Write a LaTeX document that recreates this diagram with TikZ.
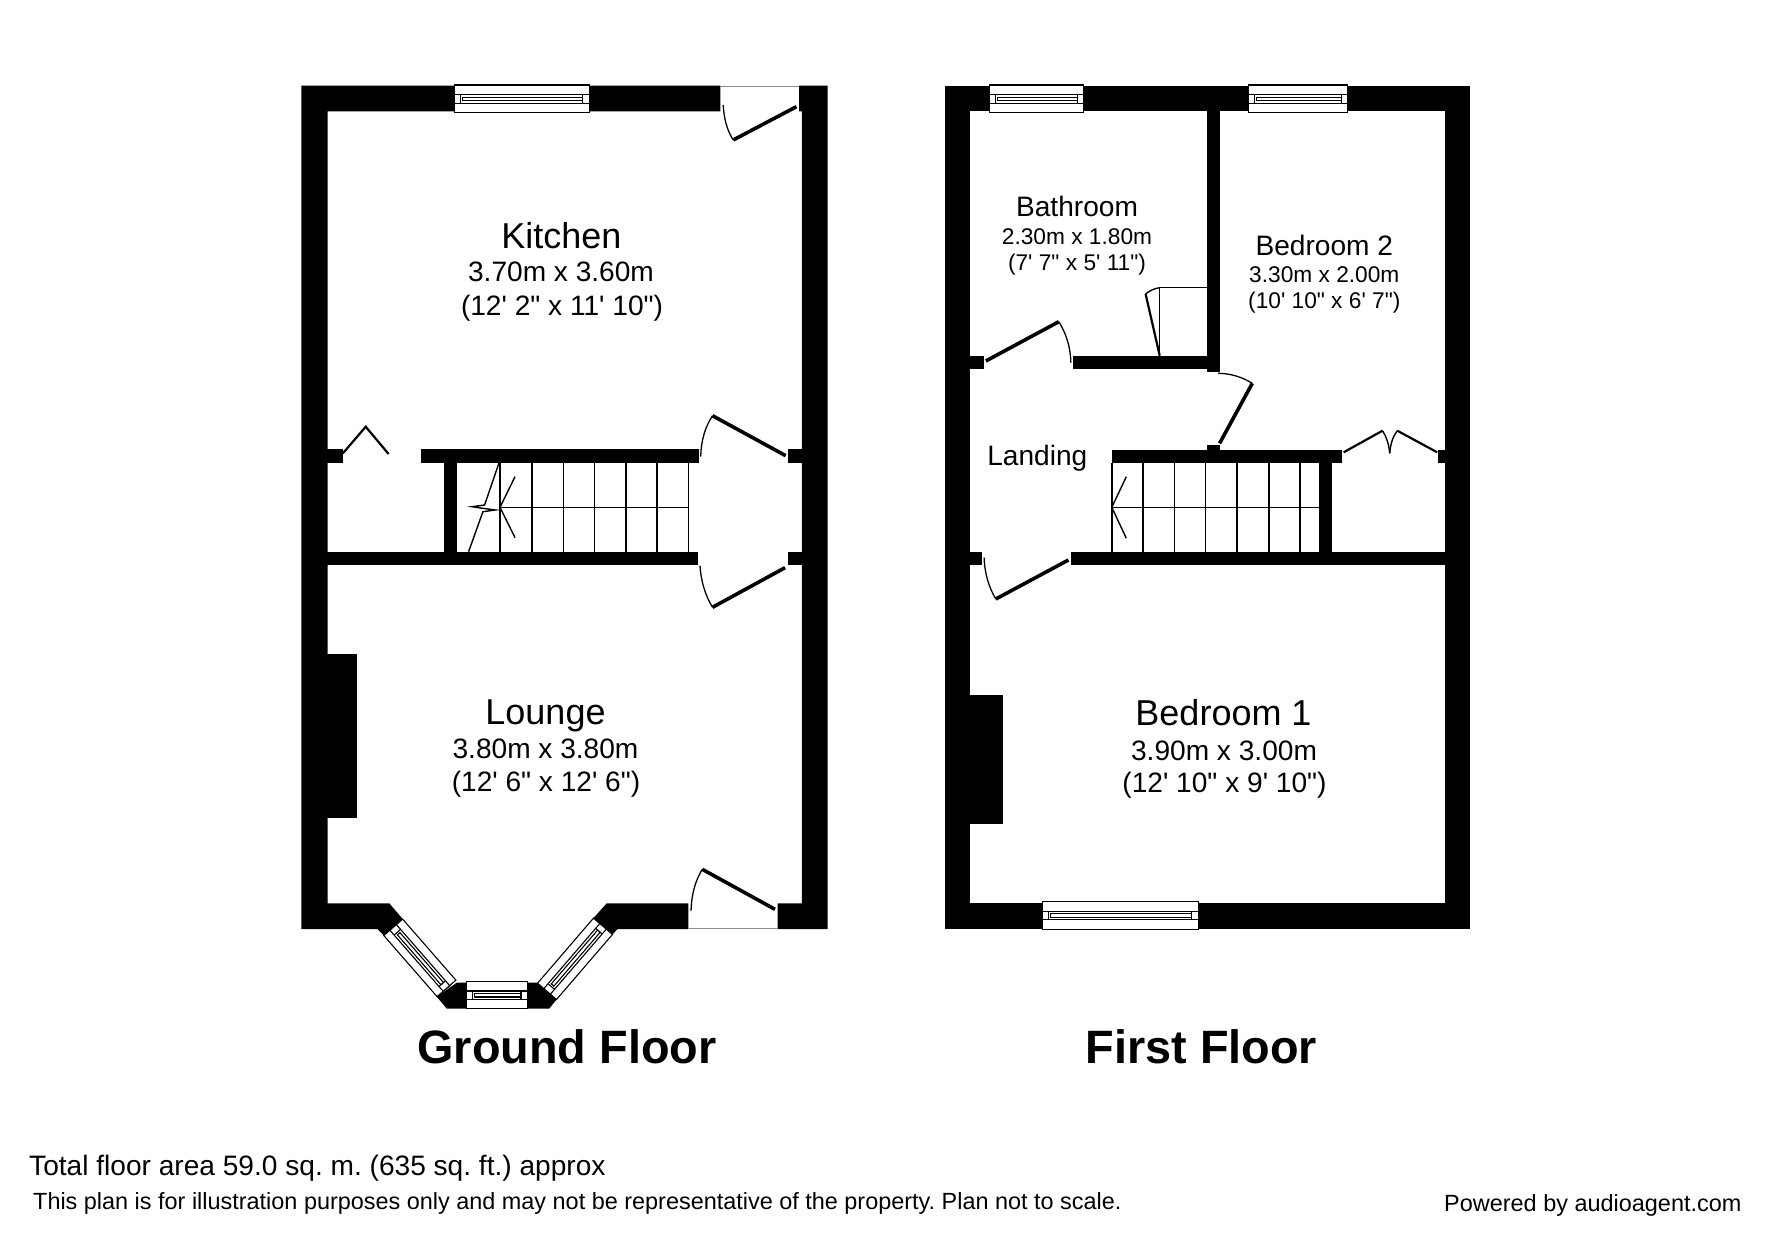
\documentclass[tikz,border=0pt]{standalone}
\usepackage{fontspec}
\newfontfamily\lsans{Liberation Sans}
\newcommand{\fs}[1]{\lsans\frenchspacing\fontsize{#1}{#1}\selectfont}
\tikzset{
  x=1pt,y=-1pt,
  wall/.style={fill=black,draw=none},
  gap/.style={draw=gray!90,line width=1.2pt},
  leaf/.style={draw=black,line width=3.6pt},
  swing/.style={draw=black,line width=1.3pt},
  hinge/.style={draw=black,line width=2.2pt},
  tread/.style={draw=black,line width=1.4pt},
  winline/.style={draw=black,line width=1.1pt,fill=white},
  big/.style={anchor=base,inner sep=0pt,font=\fs{36}},
  mid/.style={anchor=base,inner sep=0pt,font=\fs{28.1}},
  small/.style={anchor=base,inner sep=0pt,font=\fs{22.7}},
  title/.style={anchor=base,inner sep=0pt,font=\fs{46.8}\bfseries},
  foot/.style={anchor=base west,inner sep=0pt},
}
% window: cx, cy, length, depth, rotation
\newcommand{\win}[5]{%
  \begin{scope}[shift={(#1,#2)},rotate=#5]
    \pgfmathsetmacro{\hl}{#3/2}\pgfmathsetmacro{\hd}{#4/2}
    \draw[winline] (-\hl,-\hd) rectangle (\hl,\hd);
    \draw[winline] (-\hl,-4.2) rectangle (\hl,4.4);
    \draw[winline] (-\hl+6.4,-4.2) -- (-\hl+6.4,4.4);
    \draw[winline] (\hl-6.4,-4.2) -- (\hl-6.4,4.4);
    \draw[winline] (-\hl+8.4,-1.6) rectangle (\hl-6.4,1.8);
  \end{scope}}
\begin{document}
\begin{tikzpicture}
\useasboundingbox[fill=white] (0,0) rectangle (1771,1240);

% ===== Ground floor walls =====
\fill[wall] (301.4,85.7) -- (720.4,85.7) -- (720.4,111.3) -- (327.5,111.3) -- (327.5,903.3)
  -- (389.3,903.3) -- (402.7,919) -- (384,935.7) -- (377.7,929.2) -- (301.4,929.2) -- cycle;
\fill[wall] (799,85.7) -- (827.5,85.7) -- (827.5,929.2) -- (777.7,929.2) -- (777.7,903.3)
  -- (801.8,903.3) -- (801.8,111.3) -- (799,111.3) -- cycle;
\fill[wall] (606.7,903.3) -- (688.3,903.3) -- (688.3,929.2) -- (617.3,929.2) -- (612.7,934.3) -- (593.3,918.3) -- cycle;
\fill[wall] (436.7,996.7) -- (446.7,1008.5) -- (466,1008.5) -- (466,982.7) -- (456.7,982.7) -- cycle;
\fill[wall] (527.3,982.7) -- (537.3,982.7) -- (556.7,999.3) -- (549.3,1008.5) -- (527.3,1008.5) -- cycle;
\fill[wall] (320,449.3) rectangle (342.9,462.9);
\fill[wall] (421,449.3) rectangle (698.6,462.9);
\fill[wall] (443.6,460) rectangle (457,553);
\fill[wall] (320,551.7) rectangle (697.9,565);
\fill[wall] (787.5,449.3) rectangle (810,462.9);
\fill[wall] (787.5,551.7) rectangle (810,565);
\fill[wall] (320,654.3) rectangle (356.7,817.7);

% door openings on the outer face
\coordinate (gfBackA) at (720.4,86.4); \coordinate (gfBackB) at (799,86.4);
\draw[gap] (gfBackA) -- (gfBackB);
\coordinate (gfFrontA) at (688.3,928.8); \coordinate (gfFrontB) at (777.7,928.8);
\draw[gap] (gfFrontA) -- (gfFrontB);

% Ground floor windows
\win{521.8}{98.8}{135}{27.7}{0}
\win{419.85}{957.85}{81}{25}{-48.9}
\win{496.7}{995.2}{61.3}{27}{0}
\win{575}{958.8}{85.8}{25}{49.3}

% Ground floor doors
\draw[leaf] (796.4,106.7) -- (733.2,140);
\draw[swing] (723.2,105) .. controls (724,119) and (727,130) .. (733.2,140);
\draw[leaf] (785.7,455.7) -- (712.5,415.7);
\draw[swing] (700.7,456.7) .. controls (701,441) and (705,427) .. (712.5,415.7);
\draw[leaf] (785,567.7) -- (712.5,607.3);
\draw[swing] (700,565.7) .. controls (701,581) and (705,595) .. (712.5,607.3);
\draw[leaf] (775,909.3) -- (702.3,869.3);
\draw[swing] (691,910.7) .. controls (691.5,895) and (695,881) .. (702.3,869.3);
\draw[hinge] (342.9,453.3) -- (365.7,426.7) -- (388.6,454);

% Ground floor stairs
\foreach \sx in {500,531.8,563.2,594.3,626,657.1,688.6} \draw[tread] (\sx,462.9) -- (\sx,551.7);
\draw[tread] (500,507.3) -- (688.6,507.3);
\draw[tread] (499,462.9) -- (484.6,505) -- (472.1,506.7) -- (484,508.5) -- (495.4,510) -- (482.9,511.7) -- (468.6,551.7);
\draw[tread] (515,476.7) -- (500,507.3) -- (515,537.7);

% ===== First floor walls =====
\fill[wall] (944.5,85.7) -- (1470.3,85.7) -- (1470.3,929.3) -- (944.5,929.3) -- cycle;
\fill[white] (970,111.3) rectangle (1206.5,355.7);
\fill[white] (1219.6,111.3) rectangle (1444.5,551.7);
\fill[white] (970,368.7) rectangle (1219.6,551.7);
\fill[white] (970,565) rectangle (1444.5,903.3);
\fill[white] (982,551.7) rectangle (1071.2,565);
\fill[white] (984.1,355.7) rectangle (1073.3,368.7);
\fill[wall] (1206.5,368.7) rectangle (1219.6,371.7);
\fill[wall] (1206.5,445) rectangle (1219.6,450);
\fill[wall] (1111.8,450) rectangle (1341.9,462.9);
\fill[wall] (1319.1,460) rectangle (1332.2,553);
\fill[wall] (1437.9,450) rectangle (1450,462.9);
\fill[wall] (960,695.3) rectangle (1002.7,824);

% First floor windows
\win{1036.4}{98.8}{94.4}{27.7}{0}
\win{1298}{98.8}{99.5}{27.7}{0}
\win{1120.3}{915.5}{156}{27.7}{0}

% First floor doors
\draw[leaf] (985.8,361) -- (1058.8,321.7);
\draw[swing] (1070.9,362.7) .. controls (1070.5,347) and (1066,333) .. (1058.8,321.7);
\draw[leaf] (1219.6,443.3) -- (1252.3,383.3);
\draw[swing] (1218.2,373.3) .. controls (1231,373.5) and (1242,377) .. (1252.3,383.3);
\draw[leaf] (1068.4,560) -- (995.8,599);
\draw[swing] (984.1,557.7) .. controls (984.5,572) and (988.5,587) .. (995.8,599);

% Bathroom cupboard
\draw[tread] (1206.5,287.7) -- (1159.7,287.7) -- (1159.7,355.7);
\draw[hinge] (1159.7,355.7) -- (1145.6,294);
\draw[tread] (1145.6,294) .. controls (1149,291) and (1154,288.5) .. (1159.7,287.7);

% Bedroom 2 double doors
\draw[hinge] (1343.6,452.3) -- (1382.5,430.7);
\draw[tread] (1382.5,430.7) .. controls (1386,436) and (1389,444) .. (1389.7,453.3);
\draw[hinge] (1437.2,452.3) -- (1397.3,430.7);
\draw[tread] (1397.3,430.7) .. controls (1393,436) and (1390.4,444) .. (1389.7,453.3);

% First floor stairs
\foreach \sx in {1111.8,1142.8,1174.2,1205.5,1236.8,1268.9,1299.9} \draw[tread] (\sx,462.9) -- (\sx,551.7);
\draw[tread] (1111.8,507.3) -- (1319.1,507.3);
\draw[tread] (1126.3,476.7) -- (1111.8,507.3) -- (1126.3,538.3);

% ===== Labels =====
\node[big] (kitchenA) at (561.4,248.3) {Kitchen};
\node[mid] (kitchenB) at (561,281.7) {3.70m x 3.60m};
\node[mid] (kitchenC) at (562,315) {(12' 2" x 11' 10")};
\node[big] (loungeA) at (545.5,724) {Lounge};
\node[mid] (loungeB) at (545.5,758.7) {3.80m x 3.80m};
\node[mid] (loungeC) at (546,791.5) {(12' 6" x 12' 6")};
\node[mid] (bathA) at (1077,216.5) {Bathroom};
\node[small] (bathB) at (1077,244) {2.30m x 1.80m};
\node[small] (bathC) at (1077,270) {(7' 7" x 5' 11")};
\node[mid] (bedtwoA) at (1324.3,255) {Bedroom 2};
\node[small] (bedtwoB) at (1324.3,282) {3.30m x 2.00m};
\node[small] (bedtwoC) at (1324.3,308.3) {(10' 10" x 6' 7")};
\node[mid] (landing) at (1037.3,465) {Landing};
\node[big] (bedoneA) at (1223.5,725) {Bedroom 1};
\node[mid] (bedoneB) at (1224,760) {3.90m x 3.00m};
\node[mid] (bedoneC) at (1224.5,792.3) {(12' 10" x 9' 10")};
\node[title] (gf) at (567,1063) {Ground Floor};
\node[title] (ff) at (1201.5,1063) {First Floor};
\node[foot,font=\fs{28.1}] (total) at (29,1175) {Total floor area 59.0 sq. m. (635 sq. ft.) approx};
\node[foot,font=\fs{23.43}] (disc) at (33,1209) {This plan is for illustration purposes only and may not be representative of the property. Plan not to scale.};
\node[foot,font=\fs{23.45}] (pow) at (1444,1211) {Powered by audioagent.com};
\end{tikzpicture}
\end{document}
